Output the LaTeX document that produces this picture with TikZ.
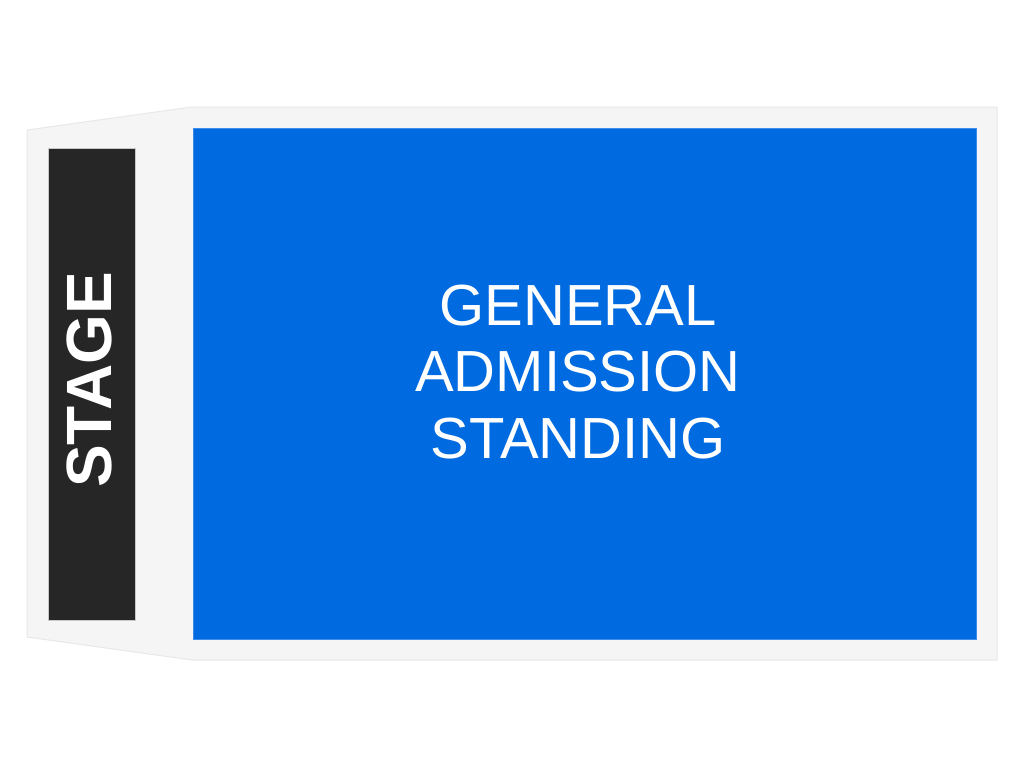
\documentclass[tikz,border=0pt]{standalone}
\usepackage{fontspec}
\setmainfont{Liberation Sans}
\begin{document}
\begin{tikzpicture}[x=1pt,y=-1pt,
  outline/.style={fill=black!4, draw=black!9, line width=1pt},
  floor/.style={fill={rgb,255:red,0;green,107;blue,224}, draw={rgb,255:red,60;green,140;blue,235}, line width=1pt},
  stagebox/.style={fill={rgb,255:red,38;green,38;blue,38}, draw={rgb,255:red,200;green,200;blue,200}, line width=0.8pt}]
\useasboundingbox (0,0) rectangle (1024,768);
\fill[white] (0,0) rectangle (1024,768);
\draw[outline] (27,130) -- (192,107) -- (997,107) -- (997,660) -- (192,660) -- (27,637) -- cycle;
\draw[floor] (193,128) rectangle (976,639);
\node[text=white, align=center, font=\fontsize{58}{66.5}\selectfont] (galabel) at (578,372) {GENERAL\\ADMISSION\\STANDING};
\draw[stagebox] (48,148) rectangle (135,620);
\node[text=white, rotate=90, font=\bfseries\fontsize{64}{64}\selectfont] (stage) at (89,380) {STAGE};
\end{tikzpicture}
\end{document}
